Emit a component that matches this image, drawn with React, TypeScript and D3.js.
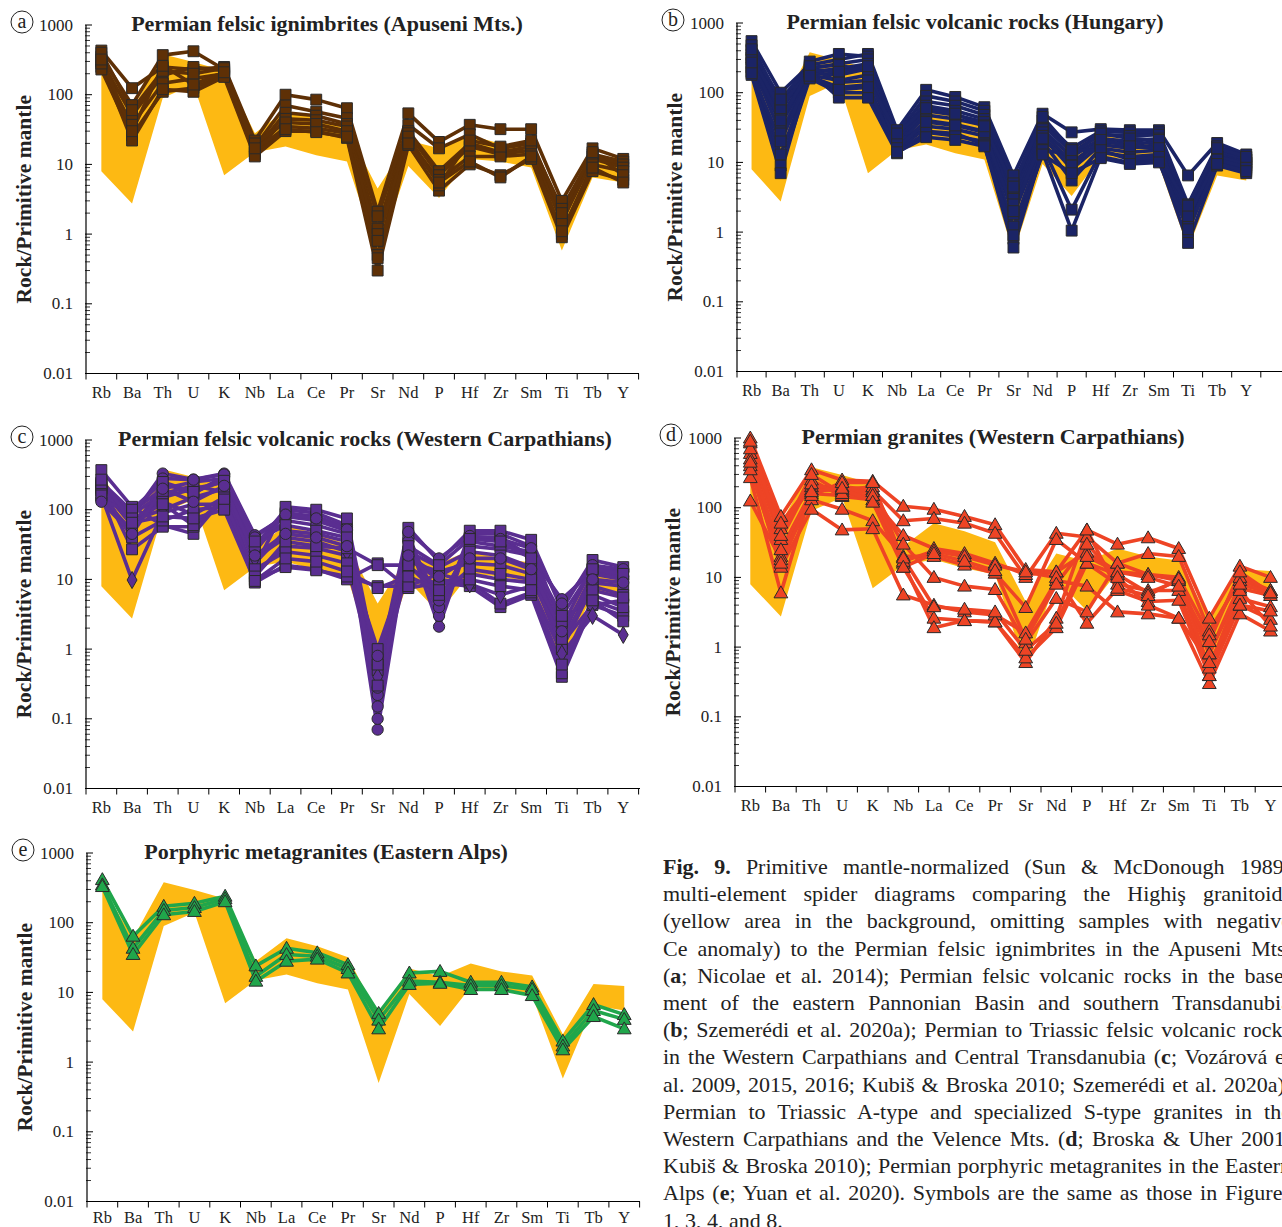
import React, { useLayoutEffect, useRef } from "react";
import * as d3 from "d3";

// Primitive mantle-normalized spider diagrams, five panels + caption

const elements = ["Rb", "Ba", "Th", "U", "K", "Nb", "La", "Ce", "Pr", "Sr", "Nd", "P", "Hf", "Zr", "Sm", "Ti", "Tb", "Y"];
const yTickLabels = ["0.01", "0.1", "1", "10", "100", "1000"];

// Highiş granitoids envelope (yellow background)
const envUpper = [330, 60, 380, 295, 220, 28, 60, 46, 32, 4.5, 22, 17, 26, 20, 17.5, 2.5, 13.2, 12.4];
const envLower = [8, 2.75, 90, 140, 7, 15, 18, 13.5, 11, 0.5, 9.5, 3.3, 12, 11, 9, 0.58, 6.5, 5.5];

// (a) Permian felsic ignimbrites (Apuseni Mts.)
const apuseni = [
  [430, 124, 250, 230, 250, 22, 100, 85, 64, 2.1, 54, 21, 37, 32, 32, 3, 17, 12],
  [350, 71, 370, 420, 230, 18, 70, 57, 46, 1.8, 37, 17, 27, 17, 20, 2.3, 14, 11],
  [300, 51, 190, 250, 220, 16, 55, 50, 38, 1.2, 30, 8, 20, 15, 18, 1.6, 13, 10],
  [250, 37, 146, 170, 200, 15, 45, 43, 35, 1.0, 28, 7, 18, 14, 16, 1.5, 12, 9],
  [230, 26, 110, 125, 190, 14, 35, 33, 28, 0.5, 22, 6, 13, 13, 14, 1.0, 10, 8],
  [280, 22, 120, 110, 180, 13, 30, 30, 24, 0.3, 19, 4.2, 10, 7, 12, 0.9, 8, 6],
  [400, 60, 220, 200, 240, 20, 40, 38, 30, 0.8, 25, 5, 22, 18, 22, 2.0, 15, 7],
  [320, 30, 260, 140, 210, 17, 32, 29, 25, 0.45, 20, 5.5, 11, 6.5, 13, 1.1, 9, 5.5],
];

// (b) Permian felsic volcanic rocks (Hungary)
const hungary = [
  [550, 100, 250, 300, 360, 29, 110, 87, 62, 6.5, 50, 27, 30, 29, 29, 6.5, 19, 13],
  [480, 70, 280, 360, 330, 25, 90, 75, 55, 5, 40, 16, 28, 27, 27, 2.5, 17, 12],
  [400, 56, 220, 260, 300, 22, 75, 65, 48, 4, 35, 14, 25, 24, 25, 2.2, 15, 11],
  [350, 45, 200, 220, 260, 20, 65, 55, 42, 3.5, 30, 12, 22, 20, 22, 2.0, 14, 11],
  [300, 35, 190, 180, 220, 18, 55, 48, 38, 3, 27, 10, 20, 18, 20, 1.8, 13, 10],
  [260, 26, 180, 150, 180, 17, 48, 42, 34, 2.5, 24, 8, 18, 16, 18, 1.6, 12, 10],
  [230, 13, 170, 120, 130, 15, 40, 35, 28, 1.8, 20, 5.5, 16, 14, 15, 1.4, 11, 9],
  [200, 9, 160, 100, 100, 14, 33, 30, 24, 1.2, 17, 2.1, 14, 12, 13, 1.2, 10, 8],
  [180, 7, 200, 85, 85, 13.5, 27, 24, 20, 0.8, 14, 1.05, 12, 10, 11, 0.7, 9, 7],
  [320, 60, 230, 250, 200, 21, 28, 26, 18, 0.6, 15, 13, 26, 22, 21, 1.0, 12, 9.5],
  [270, 40, 210, 200, 240, 16, 38, 34, 27, 2.0, 22, 9, 21, 17, 16, 1.7, 11, 8.5],
  [420, 80, 240, 140, 150, 26, 60, 50, 33, 4.5, 45, 15, 15, 11, 12, 2.4, 16, 12],
  [190, 20, 175, 110, 120, 14, 23, 21, 17, 0.9, 13, 7, 11.5, 9.5, 10, 1.1, 9.5, 7.5],
];

// (c) Permian felsic volcanic rocks (Western Carpathians)
const carpathVolc = [
  [370, 110, 60, 45, 150, 9, 16, 14, 10, 17, 7.5, 9, 8, 4, 6, 0.4, 4.3, 3],
  [230, 27, 57, 57, 130, 10, 15, 13.5, 11, 8, 8, 12, 9, 4.5, 6.5, 0.45, 5, 3.5],
  [170, 80, 330, 270, 330, 43, 80, 70, 50, 0.07, 37, 2.1, 40, 40, 21, 5.2, 13, 11],
  [150, 50, 240, 170, 300, 30, 100, 90, 60, 0.1, 45, 3, 45, 45, 30, 2.1, 15, 13],
  [200, 60, 150, 200, 250, 25, 90, 80, 55, 0.22, 40, 4, 35, 30, 25, 1.5, 12, 10],
  [180, 70, 100, 150, 200, 28, 70, 60, 45, 0.28, 35, 5, 30, 27, 22, 1.2, 4.3, 5],
  [250, 95, 200, 250, 280, 15, 110, 100, 75, 0.5, 55, 18, 50, 50, 37, 3.7, 19, 15],
  [220, 85, 170, 220, 180, 17, 50, 45, 35, 0.7, 25, 15, 25, 22, 15, 1.2, 9, 8],
  [210, 60, 130, 85, 150, 12, 30, 28, 22, 1.0, 18, 13, 17, 16, 12, 1.0, 8, 6],
  [160, 9.8, 90, 120, 120, 20, 40, 35, 25, 0.4, 20, 10, 8.5, 6, 8, 0.86, 3, 1.6],
  [190, 40, 70, 100, 110, 14, 25, 22, 17, 0.3, 15, 8, 12, 10, 9, 2.5, 6, 4],
  [140, 90, 280, 270, 320, 40, 85, 75, 52, 0.15, 48, 20, 42, 38, 28, 4.5, 16, 14],
  [160, 100, 250, 180, 260, 35, 60, 50, 40, 0.6, 30, 16, 38, 35, 20, 3, 14, 12],
  [240, 75, 120, 60, 140, 11, 35, 30, 28, 16, 16, 6, 14, 12, 10, 1.4, 7, 5.5],
  [130, 45, 200, 130, 220, 22, 45, 40, 30, 0.8, 22, 11, 20, 20, 14, 1.8, 10, 9],
  [270, 65, 80, 75, 100, 9.5, 20, 18, 13, 7.5, 11, 7, 10, 8, 7, 0.6, 5, 2.5],
];
const carpathVolcMarkers = ["square", "square", "circle", "circle", "circle", "circle", "square", "square", "square", "diamond", "square", "circle", "square", "square", "circle", "square"];

// (d) Permian granites (Western Carpathians)
const carpathGran = [
  [1000, 75, 350, 250, 240, 105, 95, 75, 57, 13, 12, 48, 30, 37, 26, 2.6, 14.5, 10],
  [850, 50, 200, 200, 180, 65, 70, 60, 43, 10, 43, 38, 16, 22, 20, 1.7, 9, 6.5],
  [600, 35, 250, 145, 130, 40, 26, 22, 16, 11, 12, 23, 12, 11, 9, 0.8, 7, 5.5],
  [500, 20, 130, 95, 65, 20, 20, 15, 11.5, 3.7, 35, 16, 8, 6.5, 6.5, 0.39, 5, 3.8],
  [400, 14, 95, 48, 50, 5.6, 4, 3.2, 2.9, 1.6, 9, 7.5, 3.2, 3, 2.6, 0.3, 3, 1.7],
  [270, 6, 180, 180, 200, 14, 2.6, 2.4, 2.3, 0.6, 2.6, 48, 6.5, 4.5, 4.7, 0.39, 4, 2.5],
  [125, 18, 160, 150, 150, 16, 1.9, 2.4, 2.3, 0.7, 1.9, 16, 11, 6, 9, 0.5, 6.5, 2],
  [700, 60, 220, 170, 170, 30, 10, 7.5, 6.7, 1.15, 5, 3.2, 16, 11, 10, 1.5, 10, 6.5],
  [350, 16, 150, 230, 230, 17, 24, 20, 15, 12, 10, 2.2, 7, 5.5, 9.5, 0.8, 8, 6],
  [900, 40, 300, 160, 150, 19, 3.8, 3.5, 3.2, 0.9, 2.2, 20, 12, 10, 7.5, 1.2, 12, 6],
  [450, 25, 170, 190, 120, 14, 22, 17, 12.5, 1.3, 8, 30, 10, 4, 2.6, 0.6, 4, 3.3],
];

// (e) Porphyric metagranites (Eastern Alps)
const easternAlps = [
  [415, 64, 172, 190, 240, 24, 43, 37, 25, 5, 19, 20, 14, 14, 12, 2, 6.7, 4.8],
  [350, 43, 150, 165, 220, 17, 35, 33, 22, 4, 14.5, 14, 12.5, 12.5, 11, 1.7, 5.5, 4.1],
  [330, 35, 130, 145, 200, 14.5, 28, 30, 19, 3, 13, 13.5, 11, 11, 9, 1.5, 4.5, 3.0],
];

const captionLines = [
  "**Fig. 9.** Primitive mantle-normalized (Sun & McDonough 1989)",
  "multi-element spider diagrams comparing the Highiş granitoids",
  "(yellow area in the background, omitting samples with negative",
  "Ce anomaly) to the Permian felsic ignimbrites in the Apuseni Mts.",
  "(**a**; Nicolae et al. 2014); Permian felsic volcanic rocks in the base-",
  "ment of the eastern Pannonian Basin and southern Transdanubia",
  "(**b**; Szemerédi et al. 2020a); Permian to Triassic felsic volcanic rocks",
  "in the Western Carpathians and Central Transdanubia (**c**; Vozárová et",
  "al. 2009, 2015, 2016; Kubiš & Broska 2010; Szemerédi et al. 2020a);",
  "Permian to Triassic A-type and specialized S-type granites in the",
  "Western Carpathians and the Velence Mts. (**d**; Broska & Uher 2001;",
  "Kubiš & Broska 2010); Permian porphyric metagranites in the Eastern",
  "Alps (**e**; Yuan et al. 2020). Symbols are the same as those in Figures",
  "1, 3, 4, and 8.",
];

const SERIF = "'Liberation Serif', 'Times New Roman', serif";
const ENV_COLOR = "#FDB913";

const panels = [
  { letter: "a", title: "Permian felsic ignimbrites (Apuseni Mts.)", x0: 86, top: 25, bw: 30.7, axisEnd: 639, titleX: 327, data: apuseni, color: "#5E3006", markers: null, defMarker: "square", labelDy: 24 },
  { letter: "b", title: "Permian felsic volcanic rocks (Hungary)", x0: 737, top: 23, bw: 29.1, axisEnd: 1282, titleX: 975, data: hungary, color: "#1B2466", markers: null, defMarker: "square", labelDy: 24 },
  { letter: "c", title: "Permian felsic volcanic rocks (Western Carpathians)", x0: 86, top: 440, bw: 30.7, axisEnd: 640, titleX: 365, data: carpathVolc, color: "#5A2E91", markers: carpathVolcMarkers, defMarker: "square", labelDy: 24 },
  { letter: "d", title: "Permian granites (Western Carpathians)", x0: 735, top: 438, bw: 30.6, axisEnd: 1282, titleX: 993, data: carpathGran, color: "#EE4425", markers: null, defMarker: "triangle", labelDy: 24 },
  { letter: "e", title: "Porphyric metagranites (Eastern Alps)", x0: 87, top: 853, bw: 30.7, axisEnd: 640, titleX: 326, data: easternAlps, color: "#20A64B", markers: null, defMarker: "triangle", labelDy: 21 },
];

const DEC = 69.7;

function symbolPath(kind: string) {
  if (kind === "circle") return d3.symbol().type(d3.symbolCircle).size(100)()!;
  if (kind === "diamond") return d3.symbol().type(d3.symbolDiamond).size(85)()!;
  if (kind === "triangle") return d3.symbol().type(d3.symbolTriangle).size(82)()!;
  return d3.symbol().type(d3.symbolSquare).size(118)()!;
}

function Panel({ p }: { p: any }) {
  const bottom = p.top + 5 * DEC;
  const x = d3.scaleBand().domain(elements).range([p.x0, p.x0 + elements.length * p.bw]);
  const cx = (e: string) => (x(e) as number) + p.bw / 2;
  const y = d3.scaleLog().domain([0.01, 1000]).range([bottom, p.top]);

  const area = d3.area<number>()
    .x((_, i) => cx(elements[i]))
    .y0((_, i) => y(envLower[i]))
    .y1((d) => y(d));
  const line = d3.line<number>().x((_, i) => cx(elements[i])).y((d) => y(d));

  const minor: number[] = [];
  for (let dd = -2; dd < 3; dd++) for (let k = 2; k < 10; k++) minor.push(k * Math.pow(10, dd));
  const major = yTickLabels.map(Number);

  const boundaries = elements.map((e) => x(e) as number).concat([p.x0 + elements.length * p.bw]);

  return (
    <g>
      <path d={area(envUpper) || ""} fill={ENV_COLOR} />
      {p.data.map((s: number[], i: number) => (
        <path key={"l" + i} d={line(s) || ""} fill="none" stroke={p.color} strokeWidth={3.6} strokeLinejoin="round" />
      ))}
      {p.data.map((s: number[], i: number) => {
        const kind = p.markers ? p.markers[i] : p.defMarker;
        const path = symbolPath(kind);
        return s.map((v, j) => (
          <path key={"m" + i + "-" + j} d={path}
            transform={`translate(${cx(elements[j])},${y(v) + (kind === "triangle" ? 1 : 0)})`}
            fill={p.color} stroke="#2a2a2a" strokeWidth={1} />
        ));
      })}
      {/* y axis */}
      <line x1={p.x0} x2={p.x0} y1={p.top} y2={bottom} stroke="#000" strokeWidth={1.2} />
      {minor.map((v) => (
        <line key={"mt" + v} x1={p.x0 - 1} x2={p.x0 + 4} y1={y(v)} y2={y(v)} stroke="#000" strokeWidth={0.8} />
      ))}
      {major.map((v, i) => (
        <g key={"Mt" + v}>
          <line x1={p.x0 - 1} x2={p.x0 + 6} y1={y(v)} y2={y(v)} stroke="#000" strokeWidth={1} />
          <text x={p.x0 - 13} y={y(v) + 5.5} textAnchor="end" fontFamily={SERIF} fontSize={17} fill="#222">{yTickLabels[i]}</text>
        </g>
      ))}
      {/* x axis */}
      <line x1={p.x0} x2={p.axisEnd} y1={bottom} y2={bottom} stroke="#000" strokeWidth={1.2} />
      {boundaries.map((b, i) => (
        <line key={"xt" + i} x1={b} x2={b} y1={bottom} y2={bottom + 6} stroke="#000" strokeWidth={1} />
      ))}
      {elements.map((e) => (
        <text key={"xl" + e} x={cx(e)} y={bottom + p.labelDy} textAnchor="middle" fontFamily={SERIF} fontSize={16.5} fill="#222">{e}</text>
      ))}
      {/* labels */}
      <text transform={`translate(${p.x0 - 55},${(p.top + bottom) / 2}) rotate(-90)`} textAnchor="middle"
        fontFamily={SERIF} fontWeight="bold" fontSize={21.5} fill="#222">Rock/Primitive mantle</text>
      <text x={p.titleX} y={p.top + 6} textAnchor="middle" fontFamily={SERIF} fontWeight="bold" fontSize={22} fill="#222">{p.title}</text>
      <circle cx={p.x0 - 64} cy={p.top - 3} r={11} fill="none" stroke="#222" strokeWidth={1} />
      <text x={p.x0 - 64} y={p.top + 3} textAnchor="middle" fontFamily={SERIF} fontSize={20} fill="#222">{p.letter}</text>
    </g>
  );
}

function Caption() {
  const left = 663, width = 628, top0 = 874, lh = 27.2;
  const refs = useRef<(SVGTextElement | null)[]>([]);
  useLayoutEffect(() => {
    // justify lines by spreading the spaces between words
    refs.current.forEach((el, i) => {
      if (!el || i === captionLines.length - 1) return;
      el.setAttribute("word-spacing", "0");
      const natural = el.getComputedTextLength();
      const spaces = (captionLines[i].match(/ /g) || []).length;
      if (spaces > 0) el.setAttribute("word-spacing", String((width - natural) / spaces));
    });
  }, []);
  return (
    <g>
      {captionLines.map((ln, i) => {
        const parts = ln.split("**");
        return (
          <text key={i} ref={(el) => { refs.current[i] = el; }} x={left} y={top0 + i * lh}
            fontFamily={SERIF} fontSize={22} fill="#222">
            {parts.map((t, k) => (
              <tspan key={k} fontWeight={k % 2 === 1 ? "bold" : "normal"}>{t}</tspan>
            ))}
          </text>
        );
      })}
    </g>
  );
}

export default function App() {
  return (
    <svg width={1282} height={1227} style={{ position: "absolute", left: 0, top: 0, background: "#fff" }}>
      <rect width={1282} height={1227} fill="#fff" />
      {panels.map((p) => <Panel key={p.letter} p={p} />)}
      <Caption />
    </svg>
  );
}
